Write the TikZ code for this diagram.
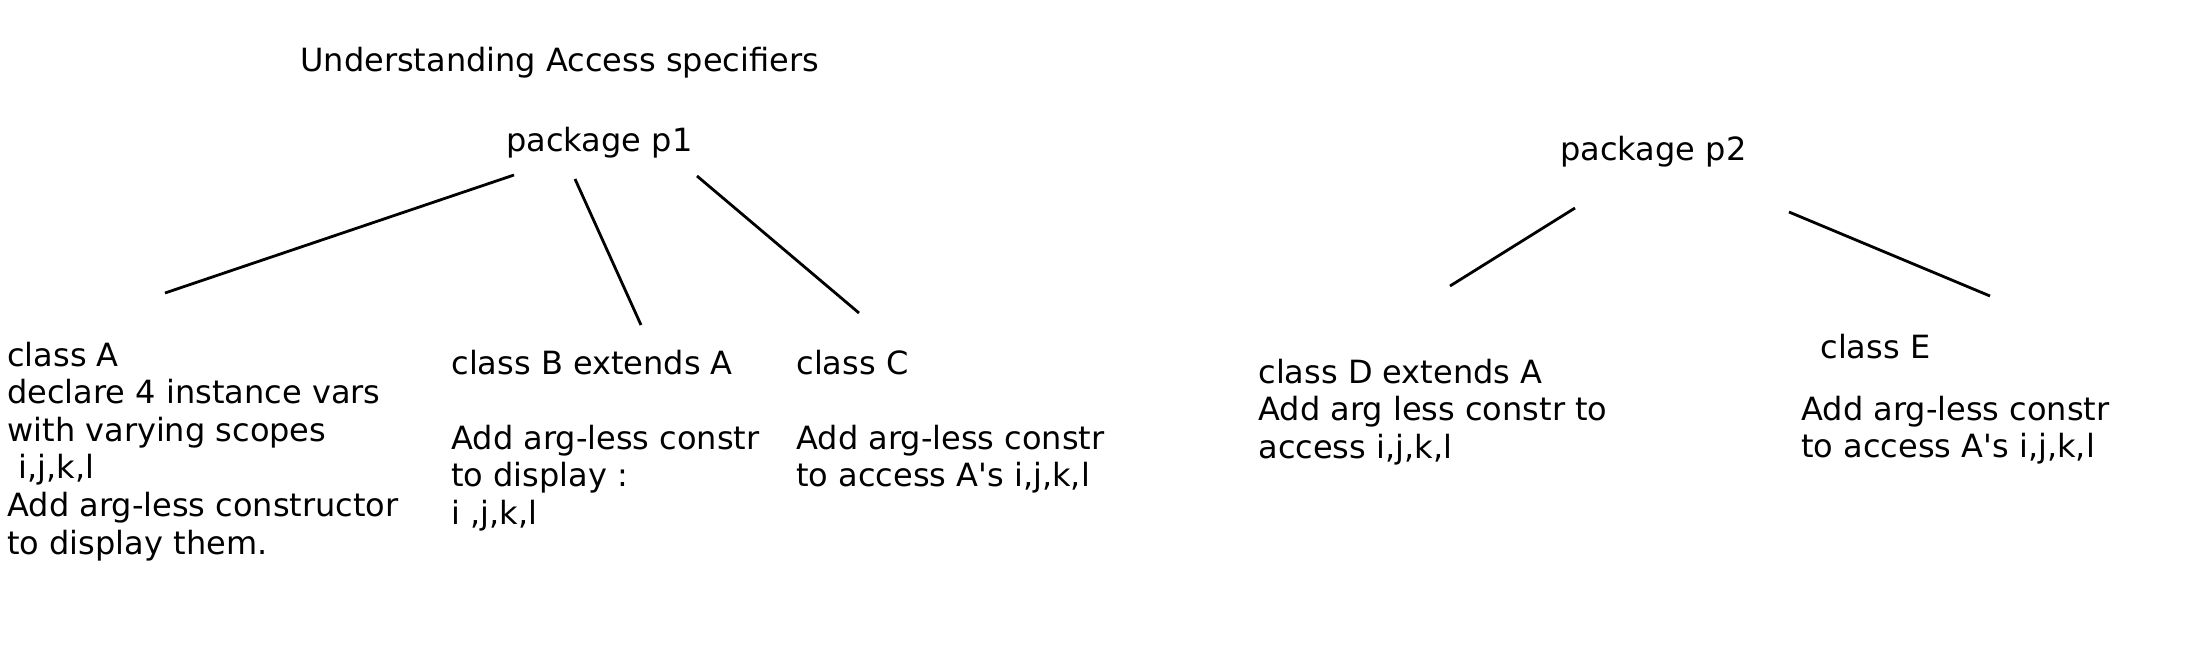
\documentclass[tikz,border=0pt]{standalone}
\usepackage{fontspec}
\setmainfont{DejaVu Sans}
\usetikzlibrary{calc}

\tikzset{
	lbl/.style={anchor=base west, inner sep=0pt, align=left, font=\fontsize{16}{18.8}\selectfont},
	branch/.style={black, line width=1.4pt}
}

\begin{document}
\begin{tikzpicture}[x=0.5pt, y=-0.5pt]
				\useasboundingbox (0,0) rectangle (2190,644);
				% headings
				\node[lbl] (title) at (300,71){Understanding Access specifiers};
				\node[lbl] (p1) at (506,151){package p1};
				\node[lbl] (p2) at (1560,160){package p2};
				% package p1 (nodes placed at the baseline of their last line)
				\node[lbl] (A) at (7,554){class A\\declare 4 instance vars\\with varying scopes\\\hspace*{5.5pt}i,j,k,l\\Add arg-less constructor\\to display them.};
				\node[lbl] (B) at (451,524.4){class B extends A\\[18.8pt]Add arg-less constr\\to display :\\i ,j,k,l};
				\node[lbl] (C) at (796,486.8){class C\\[18.8pt]Add arg-less constr\\to access A\textquotesingle s i,j,k,l};
				% package p2
				\node[lbl] (D) at (1258,458.2){class D extends A\\Add arg less constr to\\access i,j,k,l};
				\node[lbl] (E) at (1820,358){class E};
				\node[lbl] (Ebody) at (1801,457.6){Add arg-less constr\\to access A\textquotesingle s i,j,k,l};
				% lines
				\draw[branch] ($(p1.base west)+(8,24)$)--($(A.base west)+(158,-261)$);
				\draw[branch] ($(p1.base west)+(69,28)$)--($(B.base west)+(190,-199.4)$);
				\draw[branch] ($(p1.base west)+(191,25)$)--($(C.base west)+(63,-173.8)$);
				\draw[branch] ($(p2.base west)+(15,48)$)--($(D.base west)+(192,-172.2)$);
				\draw[branch] ($(p2.base west)+(229,52)$)--($(E.base west)+(170,-62)$);
			\end{tikzpicture}
\end{document}
